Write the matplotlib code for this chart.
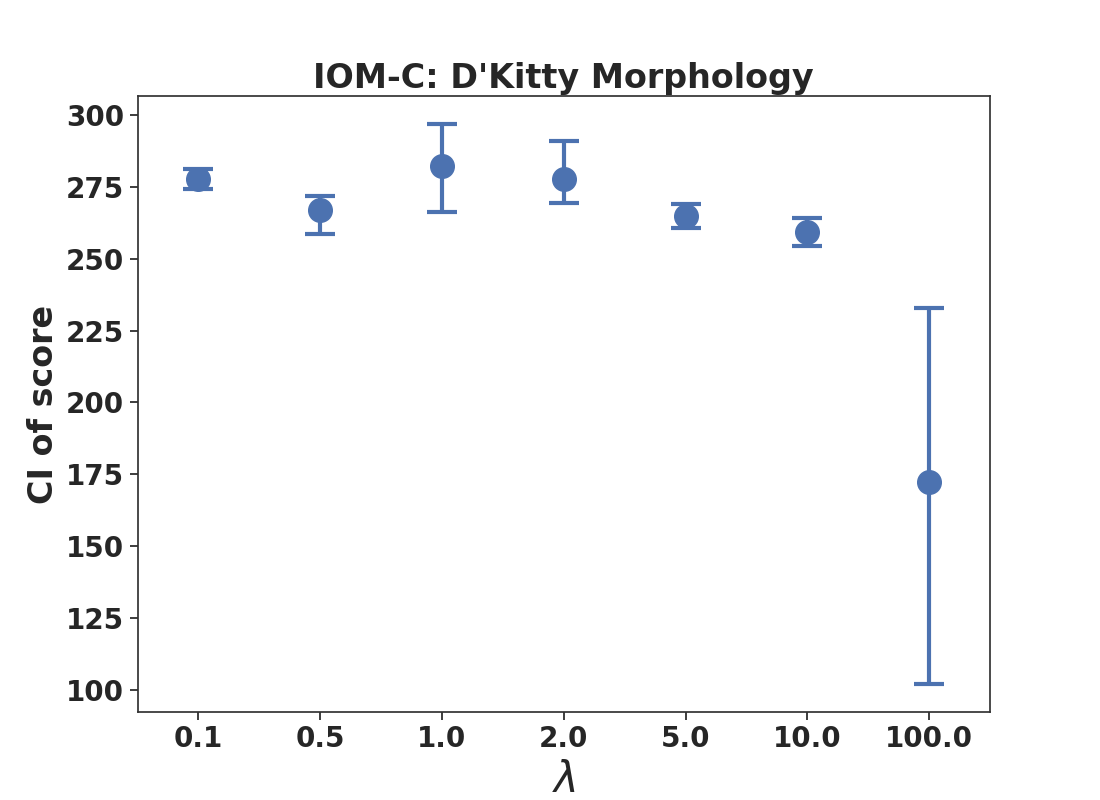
import numpy as np
import matplotlib
matplotlib.use("Agg")
import matplotlib.pyplot as plt
import seaborn as sns

lambdas = ["0.1", "0.5", "1.0", "2.0", "5.0", "10.0", "100.0"]
score_mean = [277.6, 267.0, 282.2, 277.8, 264.9, 259.4, 172.3]
ci_low = [274.2, 258.5, 266.2, 269.3, 260.6, 254.3, 102.1]
ci_high = [281.3, 271.7, 296.8, 290.9, 268.9, 264.1, 232.9]

sns.set_style("ticks")
plt.rcParams["font.family"] = ["DejaVu Sans"]

fig, ax = plt.subplots(figsize=(11, 8), dpi=100)

x = np.arange(len(lambdas))
mean = np.array(score_mean)
err = [mean - np.array(ci_low), np.array(ci_high) - mean]

color = sns.color_palette("deep")[0]
ax.errorbar(x, mean, yerr=err, fmt="o", color=color, ecolor=color,
            markersize=17, elinewidth=3, capsize=10.5, capthick=3,
            solid_capstyle="round")

ax.set_xlim(-0.5, len(lambdas) - 0.5)
ax.set_xticks(x)
ax.set_xticklabels(lambdas)
ax.tick_params(labelsize=20, colors="#262626", length=5.5, width=1.25, pad=4)
for lab in ax.get_xticklabels() + ax.get_yticklabels():
    lab.set_fontweight("bold")

ax.set_title("IOM-C: D'Kitty Morphology", fontsize=24, fontweight="bold", color="#262626")
ax.set_ylabel("CI of score", fontsize=24, fontweight="bold", color="#262626")
ax.set_xlabel(r"$\lambda$", fontsize=30, color="#262626")

for s in ax.spines.values():
    s.set_color("#333333")
    s.set_linewidth(1.25)

plt.savefig("out.png", dpi=100)
